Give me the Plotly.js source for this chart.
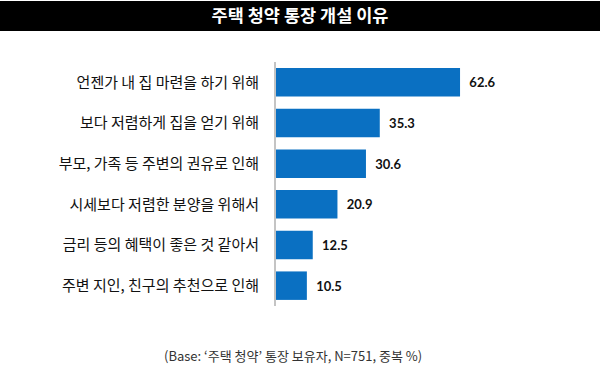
<!DOCTYPE html>
<html><head><meta charset="utf-8">
<script src="https://cdn.plot.ly/plotly-3.0.1.min.js"></script>
<style>html,body{margin:0;padding:0;background:#fff}#c{width:600px;height:376px}</style>
</head><body><div id="c"></div>
<script>
const categories = [
  "언젠가 내 집 마련을 하기 위해",
  "보다 저렴하게 집을 얻기 위해",
  "부모, 가족 등 주변의 권유로 인해",
  "시세보다 저렴한 분양을 위해서",
  "금리 등의 혜택이 좋은 것 같아서",
  "주변 지인, 친구의 추천으로 인해"
];
const values = [62.6, 35.3, 30.6, 20.9, 12.5, 10.5];
const valueLabels = ["62.6", "35.3", "30.6", "20.9", "12.5", "10.5"];
const titleText = "주택 청약 통장 개설 이유";
const noteText = "(Base: ‘주택 청약’ 통장 보유자, N=751, 중복 %)";

const W = 600, H = 376;
const m = {l: 276, r: 30, t: 62, b: 70};
const pw = W - m.l - m.r, ph = H - m.t - m.b;
const px2x = x => (x - m.l) / pw;
const px2y = y => (H - m.b - y) / ph;

const trace = {
  type: 'bar', orientation: 'h',
  y: categories, x: values,
  marker: {color: '#0a70c2'},
  width: 0.7,
  text: valueLabels.map(s => '  ' + s),
  textposition: 'outside',
  cliponaxis: false,
  textfont: {family: 'Lato, "Open Sans", sans-serif', size: 13, color: '#111', weight: 'bold'},
  hoverinfo: 'none'
};

const layout = {
  width: W, height: H,
  margin: m,
  paper_bgcolor: '#fff', plot_bgcolor: '#fff',
  showlegend: false,
  title: {
    text: '<b>' + titleText + '</b>',
    font: {family: '"Noto Sans CJK KR", sans-serif', size: 17.5, color: '#fff'},
    x: 0.5, xref: 'container', xanchor: 'center',
    y: 1 - 16 / H, yref: 'container', yanchor: 'middle'
  },
  xaxis: {range: [0, 100], visible: false, fixedrange: true},
  yaxis: {
    autorange: 'reversed', type: 'category',
    showline: true, linecolor: '#c4c4c4', linewidth: 2,
    ticks: '', ticklabelstandoff: 12,
    tickfont: {family: '"Noto Sans CJK KR", sans-serif', size: 15, color: '#111'},
    showgrid: false, zeroline: false, fixedrange: true
  },
  shapes: [{
    type: 'rect', xref: 'paper', yref: 'paper', layer: 'below',
    x0: px2x(0), x1: px2x(W), y0: px2y(31), y1: px2y(1),
    fillcolor: '#000', line: {width: 0}
  }],
  annotations: [{
    text: noteText, showarrow: false,
    xref: 'paper', yref: 'paper',
    x: px2x(293), y: px2y(355), xanchor: 'center', yanchor: 'middle',
    font: {family: '"Noto Sans CJK KR", sans-serif', size: 13, color: '#333'}
  }]
};

Plotly.newPlot('c', [trace], layout, {displayModeBar: false, staticPlot: true});
</script></body></html>
